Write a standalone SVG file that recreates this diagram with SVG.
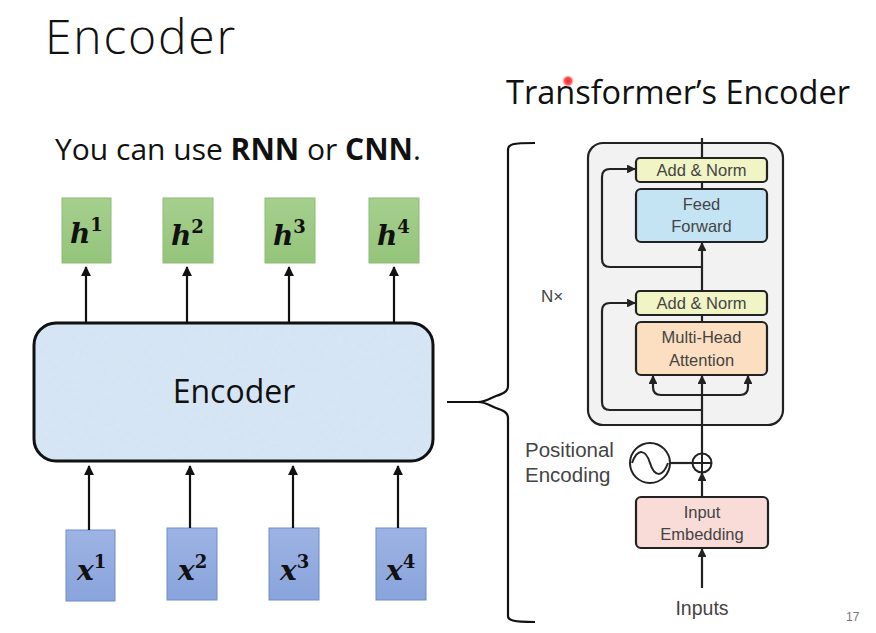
<svg xmlns="http://www.w3.org/2000/svg" width="876" height="633" viewBox="0 0 876 633">
<defs>
<style>
.title{font-family:"Open Sans","Liberation Sans",sans-serif;font-weight:300;fill:#111}
.math{font-family:"DejaVu Serif","Liberation Serif",serif;font-weight:bold;font-style:italic;fill:#111}
.sup{font-style:normal}
.tf{font-family:"Liberation Sans","Helvetica",sans-serif;fill:#444}
.ln{stroke:#111;stroke-width:2.2;fill:none}
.tl{stroke:#222;stroke-width:2.2;fill:none}
.hbox{fill:url(#gg);stroke:#8cbb72;stroke-width:1}
.xbox{fill:url(#bg);stroke:#6d8dcc;stroke-width:1}
.blk{stroke:#222;stroke-width:2.2}
</style>
<linearGradient id="gg" x1="0" y1="0" x2="0" y2="1"><stop offset="0" stop-color="#a6cf8e"/><stop offset="1" stop-color="#94c47a"/></linearGradient>
<linearGradient id="bg" x1="0" y1="0" x2="0" y2="1"><stop offset="0" stop-color="#9db3e3"/><stop offset="1" stop-color="#89a4dc"/></linearGradient>
<marker id="ah" viewBox="0 0 10 10" refX="9" refY="5" markerWidth="4.5" markerHeight="4.5" orient="auto"><path d="M0,0 L10,5 L0,10 z" fill="#111"/></marker>
<marker id="ahs" viewBox="0 0 10 10" refX="9" refY="5" markerWidth="4" markerHeight="4" orient="auto"><path d="M0,0 L10,5 L0,10 z" fill="#222"/></marker>
<filter id="tex" x="0" y="0" width="1" height="1"><feTurbulence type="fractalNoise" baseFrequency="0.25" numOctaves="2" seed="3"/><feColorMatrix type="matrix" values="0 0 0 0 0.75  0 0 0 0 0.85  0 0 0 0 0.95  0 0 0 0.35 0"/><feComposite in2="SourceGraphic" operator="in"/></filter>
<radialGradient id="dot"><stop offset="0" stop-color="#e23"/><stop offset="0.6" stop-color="#f55"/><stop offset="1" stop-color="#f99" stop-opacity="0"/></radialGradient>
</defs>
<rect width="876" height="633" fill="#fff"/>

<text class="title" x="45" y="54" font-size="48" letter-spacing="1.8">Encoder</text>
<text x="55" y="160" font-size="30" font-family="Open Sans, Liberation Sans, sans-serif" fill="#111">You can use <tspan font-weight="bold">RNN</tspan> or <tspan font-weight="bold">CNN</tspan>.</text>
<text x="506" y="104" font-size="32.5" font-family="Open Sans, Liberation Sans, sans-serif" fill="#111">Transformer’s Encoder</text>
<circle cx="568" cy="81" r="6" fill="url(#dot)"/>

<g id="h1"><rect class="hbox" x="62" y="198" width="49" height="65"/><text class="math" x="70" y="243" font-size="28">h<tspan class="sup" font-size="18" dy="-12">1</tspan></text></g>
<g id="h2"><rect class="hbox" x="163" y="198" width="50" height="65"/><text class="math" x="171" y="245" font-size="28">h<tspan class="sup" font-size="18" dy="-12">2</tspan></text></g>
<g id="h3"><rect class="hbox" x="265" y="198" width="50" height="65"/><text class="math" x="273" y="245" font-size="28">h<tspan class="sup" font-size="18" dy="-12">3</tspan></text></g>
<g id="h4"><rect class="hbox" x="369" y="198" width="50" height="65"/><text class="math" x="377" y="245" font-size="28">h<tspan class="sup" font-size="18" dy="-12">4</tspan></text></g>

<g id="encoder">
<rect x="34" y="323" width="399" height="138" rx="22" fill="#d3e3f3"/>
<rect x="34" y="323" width="399" height="138" rx="22" fill="#fff" filter="url(#tex)"/>
<rect x="34" y="323" width="399" height="138" rx="22" fill="none" stroke="#111" stroke-width="3"/>
<text x="234" y="403" font-size="32" text-anchor="middle" font-family="Open Sans, Liberation Sans, sans-serif" fill="#111">Encoder</text>
</g>

<g id="x1"><rect class="xbox" x="66" y="530" width="49" height="71"/><text class="math" x="77" y="580" font-size="28">x<tspan class="sup" font-size="18" dy="-12">1</tspan></text></g>
<g id="x2"><rect class="xbox" x="167" y="528" width="50" height="72"/><text class="math" x="178" y="580" font-size="28">x<tspan class="sup" font-size="18" dy="-12">2</tspan></text></g>
<g id="x3"><rect class="xbox" x="269" y="528" width="50" height="72"/><text class="math" x="280" y="580" font-size="28">x<tspan class="sup" font-size="18" dy="-12">3</tspan></text></g>
<g id="x4"><rect class="xbox" x="376" y="528" width="50" height="72"/><text class="math" x="386" y="580" font-size="28">x<tspan class="sup" font-size="18" dy="-12">4</tspan></text></g>

<g id="brace"><path class="ln" d="M447,402 H478 C486,402 490,398 496,396 C502,394 508,392 508,386 V150 C508,144 512,143 535,143 M496,408 C502,410 508,412 508,418 V616 C508,620 512,622 535,622 M478,402 C486,402 490,406 496,408"/></g>

<g id="tf-block"><rect x="588" y="143" width="195" height="282" rx="15" fill="#f2f2f2" stroke="#222" stroke-width="2.2"/></g>
<g id="addnorm1"><rect class="blk" x="636" y="158" width="131" height="24" rx="4" fill="#f1f4c4"/><text class="tf" x="701.5" y="176" font-size="16.5" text-anchor="middle">Add &amp; Norm</text></g>
<g id="ff"><rect class="blk" x="636" y="189" width="131" height="53" rx="5" fill="#c4e4f4"/><text class="tf" x="701.5" y="210" font-size="16.5" text-anchor="middle">Feed</text><text class="tf" x="701.5" y="232" font-size="16.5" text-anchor="middle">Forward</text></g>
<g id="addnorm2"><rect class="blk" x="636" y="291" width="131" height="24" rx="4" fill="#f1f4c4"/><text class="tf" x="701.5" y="309" font-size="16.5" text-anchor="middle">Add &amp; Norm</text></g>
<g id="mha"><rect class="blk" x="636" y="322" width="131" height="53" rx="5" fill="#fbdfc0"/><text class="tf" x="701.5" y="343" font-size="16.5" text-anchor="middle">Multi-Head</text><text class="tf" x="701.5" y="366" font-size="16.5" text-anchor="middle">Attention</text></g>
<g id="embed"><rect class="blk" x="636" y="497" width="132" height="51" rx="5" fill="#f9dcd8"/><text class="tf" x="702" y="518" font-size="16.5" text-anchor="middle">Input</text><text class="tf" x="702" y="540" font-size="16.5" text-anchor="middle">Embedding</text></g>
<g id="posenc"><circle cx="650" cy="463" r="20" fill="#fff" stroke="#222" stroke-width="2"/><path d="M632,463 C638,447 646,450 650,463 C654,476 662,479 668,463" fill="none" stroke="#222" stroke-width="2"/></g>
<g id="plus"><circle cx="702" cy="463" r="9.5" fill="#fff" stroke="#222" stroke-width="2"/><path d="M692.5,463 H711.5 M702,453.5 V472.5" stroke="#222" stroke-width="2"/></g>

<text class="tf" x="541" y="302" font-size="17">N×</text>
<text class="tf" x="525" y="457" font-size="20.5">Positional</text>
<text class="tf" x="525" y="482" font-size="20.5">Encoding</text>
<text class="tf" x="702" y="615" font-size="19.5" text-anchor="middle">Inputs</text>
<text x="846" y="621" font-size="12" fill="#777" font-family="Liberation Sans, sans-serif">17</text>

<g id="connectors">
<line class="ln" x1="86" y1="322" x2="86" y2="267" marker-end="url(#ah)"/>
<line class="ln" x1="187" y1="322" x2="187" y2="267" marker-end="url(#ah)"/>
<line class="ln" x1="289" y1="322" x2="289" y2="267" marker-end="url(#ah)"/>
<line class="ln" x1="394" y1="322" x2="394" y2="267" marker-end="url(#ah)"/>
<line class="ln" x1="89" y1="530" x2="89" y2="466" marker-end="url(#ah)"/>
<line class="ln" x1="190" y1="528" x2="190" y2="466" marker-end="url(#ah)"/>
<line class="ln" x1="293" y1="528" x2="293" y2="466" marker-end="url(#ah)"/>
<line class="ln" x1="398" y1="528" x2="398" y2="466" marker-end="url(#ah)"/>

<line class="tl" x1="702" y1="138" x2="702" y2="158"/>
<line class="tl" x1="702" y1="182" x2="702" y2="189"/>
<line class="tl" x1="702" y1="291" x2="702" y2="243" marker-end="url(#ahs)"/>
<line class="tl" x1="702" y1="315" x2="702" y2="322"/>
<line class="tl" x1="702" y1="453" x2="702" y2="376" marker-end="url(#ahs)"/>
<path class="tl" d="M702,267 H610 Q602,267 602,259 V177 Q602,169 610,169 H635" marker-end="url(#ahs)"/>
<path class="tl" d="M702,410 H610 Q602,410 602,402 V311 Q602,303 610,303 H635" marker-end="url(#ahs)"/>
<path class="tl" d="M702,395 H661 Q653,395 653,387 V376" marker-end="url(#ahs)"/>
<path class="tl" d="M702,395 H740 Q748,395 748,387 V376" marker-end="url(#ahs)"/>
<line class="tl" x1="670" y1="463" x2="692.5" y2="463"/>
<line class="tl" x1="702" y1="497" x2="702" y2="473" marker-end="url(#ahs)"/>
<line class="tl" x1="702" y1="588" x2="702" y2="549" marker-end="url(#ahs)"/>
</g>
</svg>
